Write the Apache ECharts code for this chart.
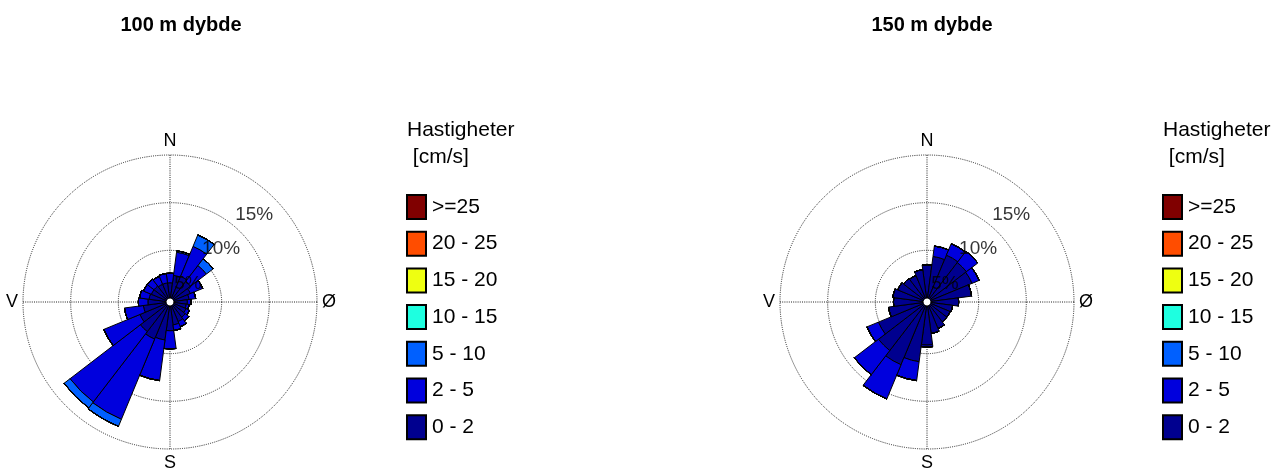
<!DOCTYPE html>
<html>
<head>
<meta charset="utf-8">
<script src="https://cdn.jsdelivr.net/npm/echarts@6/dist/echarts.min.js"></script>
<style>
  html, body { margin: 0; padding: 0; background: #fff; }
  #chart { width: 1282px; height: 469px; }
</style>
</head>
<body>
<div id="chart"></div>
<script>
// Current direction sectors (degrees, clockwise from north), 15 degree bins
const directions = ['0','15','30','45','60','75','90','105','120','135','150','165',
                    '180','195','210','225','240','255','270','285','300','315','330','345'];

// Speed classes [cm/s], listed from the lowest
const speedClasses = ['0 - 2', '2 - 5', '5 - 10', '10 - 15', '15 - 20', '20 - 25', '>=25'];
const classColors  = ['#00008F', '#0000DD', '#0060FF', '#1EFFE0', '#EEFF11', '#FF4D00', '#800000'];

// Frequency [%] per direction, 100 m depth
const d100_0_2  = [1.6, 2.4, 2.5, 2.3, 1.9, 1.6, 1.4, 1.3, 1.4, 1.6, 1.8, 2.0,
                   2.6, 3.6, 3.8, 3.5, 3.0, 2.4, 1.9, 1.8, 1.7, 1.7, 1.6, 1.6];
const d100_2_5  = [1.0, 2.45, 3.4, 2.1, 1.4, 0.7, 0.4, 0.3, 0.4, 0.5, 0.6, 0.6,
                   1.9, 4.3, 9.1, 9.3, 4.1, 2.0, 1.0, 1.0, 0.9, 0.9, 0.9, 1.0];
const d100_5_10 = [0, 0.15, 1.3, 0.9, 0, 0, 0, 0, 0, 0, 0, 0,
                   0, 0, 0.8, 0.8, 0, 0, 0, 0, 0, 0, 0, 0];

// Frequency [%] per direction, 150 m depth
const d150_0_2  = [3.5, 4.4, 4.9, 4.8, 4.7, 4.3, 2.9, 2.3, 2.2, 2.2, 2.6, 2.9,
                   4.1, 5.9, 6.7, 6.0, 5.1, 3.65, 3.1, 3.2, 2.9, 2.7, 2.6, 3.0];
const d150_2_5  = [0, 1.1, 1.3, 1.5, 0.8, 0, 0, 0, 0, 0, 0, 0,
                   0.2, 2.0, 3.9, 3.2, 1.3, 0, 0, 0, 0, 0, 0, 0];
const d150_5_10 = [0, 0, 0, 0, 0, 0, 0, 0, 0, 0, 0, 0,
                   0, 0, 0, 0, 0, 0, 0, 0, 0, 0, 0, 0];

// Percentage rings and compass labels
const ringTicks = [5, 10, 15];
const compass = { 0: 'N', 90: 'Ø', 180: 'S', 270: 'V' };

const panels = [
  { title: '100 m dybde', series: [d100_0_2, d100_2_5, d100_5_10],
    center: [170, 302], titleX: 181, legendX: 406 },
  { title: '150 m dybde', series: [d150_0_2, d150_2_5, d150_5_10],
    center: [927, 302], titleX: 932, legendX: 1162 }
];

const FONT = 'Liberation Sans, Arial, sans-serif';
const R_IN = 4, R_OUT = 147, R_MAX = 15;
const GRID_LINE = { color: '#222', width: 1, type: [1, 1.2] };
const empty = directions.map(() => 0);

const polar = [], angleAxis = [], radiusAxis = [], series = [], legend = [], graphic = [];

panels.forEach((p, k) => {
  const barPolar = 2 * k, gridPolar = 2 * k + 1;

  // polar used for the stacked sectors (category angle axis, first bin centred on north)
  polar.push({ center: p.center, radius: [R_IN, R_OUT] });
  angleAxis.push({
    polarIndex: barPolar, type: 'category', data: directions,
    startAngle: 90 + 7.5, clockwise: true, boundaryGap: true,
    axisLine: { show: false }, axisTick: { show: false },
    axisLabel: { show: false }, splitLine: { show: false }
  });
  radiusAxis.push({
    polarIndex: barPolar, type: 'value', min: 0, max: R_MAX,
    axisLine: { show: false }, axisTick: { show: false },
    axisLabel: { show: false }, splitLine: { show: false }
  });

  // polar used for the dotted rings, cross lines and compass letters
  polar.push({ center: p.center, radius: [R_IN, R_OUT] });
  angleAxis.push({
    polarIndex: gridPolar, type: 'value', min: 0, max: 360, interval: 90,
    startAngle: 90, clockwise: true,
    axisLine: { show: false }, axisTick: { show: false },
    axisLabel: {
      show: true, margin: 5, color: '#000', fontSize: 18, fontFamily: FONT,
      formatter: v => (v === 360 ? '' : (compass[v] || ''))
    },
    splitLine: { show: true, lineStyle: GRID_LINE }
  });
  radiusAxis.push({
    polarIndex: gridPolar, type: 'value', min: 0, max: R_MAX, interval: 5,
    axisLine: { show: false }, axisTick: { show: false }, axisLabel: { show: false },
    splitLine: { show: true, lineStyle: GRID_LINE }
  });

  speedClasses.forEach((name, i) => {
    series.push({
      type: 'bar', name, coordinateSystem: 'polar', polarIndex: barPolar,
      stack: 'rose' + k, barCategoryGap: '0%', z: 3,
      data: p.series[i] || empty,
      itemStyle: { color: classColors[i], borderColor: '#000', borderWidth: 1 },
      emphasis: { disabled: true }, silent: true
    });
  });

  // ring percentage labels, set inside each circle along the north-east diagonal
  series.push({
    type: 'scatter', coordinateSystem: 'polar', polarIndex: gridPolar, z: 10,
    symbolSize: 0, silent: true,
    data: ringTicks.map(t => ({ value: [t - 2.7, 44], name: t + '%' })),
    label: { show: true, position: 'inside', formatter: '{b}', color: '#000',
             fontSize: 19, fontFamily: FONT }
  });

  legend.push({
    orient: 'vertical', left: p.legendX, top: 194, padding: 0,
    itemWidth: 19, itemHeight: 24, itemGap: 10.7, icon: 'rect',
    data: speedClasses.slice().reverse(),
    textStyle: { color: '#000', fontSize: 21, lineHeight: 24, fontFamily: FONT, padding: [0, 0, 0, 1] },
    selectedMode: false
  });

  graphic.push(
    { type: 'text', x: p.titleX, y: 15,
      style: { text: p.title, font: 'bold 20px ' + FONT, fill: '#000', align: 'center' } },
    { type: 'text', x: p.legendX + 1, y: 120,
      style: { text: 'Hastigheter', font: '21px ' + FONT, fill: '#000' } },
    { type: 'text', x: p.legendX + 1, y: 147,
      style: { text: ' [cm/s]', font: '21px ' + FONT, fill: '#000' } }
  );
});

const chart = echarts.init(document.getElementById('chart'), null, { renderer: 'canvas' });
chart.setOption({
  animation: false,
  backgroundColor: '#fff',
  polar, angleAxis, radiusAxis, series, legend, graphic
});
</script>
</body>
</html>
